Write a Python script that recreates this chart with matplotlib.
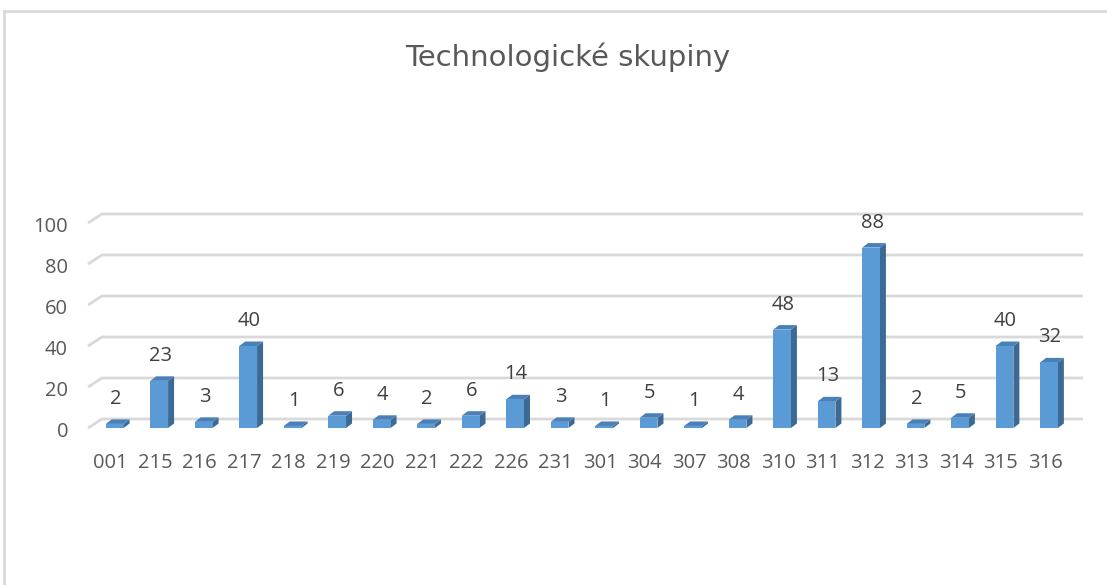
import matplotlib
matplotlib.use("Agg")
import matplotlib.pyplot as plt
from matplotlib.transforms import ScaledTranslation
from matplotlib.patches import Polygon

# ---- data ----
categories = ["001", "215", "216", "217", "218", "219", "220", "221", "222", "226", "231",
              "301", "304", "307", "308", "310", "311", "312", "313", "314", "315", "316"]
values = [2, 23, 3, 40, 1, 6, 4, 2, 6, 14, 3, 1, 5, 1, 4, 48, 13, 88, 2, 5, 40, 32]
y_ticks = [0, 20, 40, 60, 80, 100]
title = "Technologické skupiny"

# ---- style ----
FRONT = "#5b9bd5"
SIDE = "#3d6a94"
TOP = "#4a80b8"
GRID = "#d9d9d9"
TXT = "#595959"
LBL = "#404040"
FONT = "Open Sans"
plt.rcParams["font.family"] = [FONT, "DejaVu Sans"]

W, H, DPI = 1107, 585, 100
fig = plt.figure(figsize=(W / DPI, H / DPI), dpi=DPI)
ax = fig.add_axes([88 / W, (H - 428) / H, (1069 - 88) / W, 205 / H])
xmin, xmax = -0.6, 21.45
ax.set_xlim(xmin, xmax)
ax.set_ylim(0, 100)
ax.axis("off")


def off(dx_px, dy_px):
    return ax.transData + ScaledTranslation(dx_px / DPI, dy_px / DPI, fig.dpi_scale_trans)


# back-wall gridlines with slanted left ends
WALL_DX, WALL_DY = 14, 9
inv = fig.transFigure.inverted()
for v in y_ticks:
    p0 = ax.transData.transform((xmin, v))
    p1 = p0 + (WALL_DX, WALL_DY)
    p2 = ax.transData.transform((xmax, v)) + (WALL_DX, WALL_DY)
    pts = inv.transform([p0, p1, p2])
    ax.plot(pts[:, 0], pts[:, 1], color=GRID, lw=2, zorder=1,
            transform=fig.transFigure, clip_on=False, solid_capstyle="butt")

# 3D-look bars
x = list(range(len(categories)))
bw = 0.4
pxx = ax.transData.transform((1, 0))[0] - ax.transData.transform((0, 0))[0]
pxy = ax.transData.transform((0, 1))[1] - ax.transData.transform((0, 0))[1]
ddx = 6 / pxx
ddy = 4.5 / pxy
for xi, v in zip(x, values):
    l, r = xi - bw / 2, xi + bw / 2
    ax.add_patch(Polygon([(r, 0), (r, v), (r + ddx, v + ddy), (r + ddx, ddy)],
                         closed=True, facecolor=SIDE, edgecolor="none", zorder=3, clip_on=False))
    ax.add_patch(Polygon([(l, v), (r, v), (r + ddx, v + ddy), (l + ddx, v + ddy)],
                         closed=True, facecolor=TOP, edgecolor="none", zorder=3, clip_on=False))
ax.bar(x, values, width=bw, color=FRONT, zorder=4, clip_on=False)

# data labels
for xi, v in zip(x, values):
    ax.text(xi, v, str(v), transform=off(1, 25), ha="center", va="center",
            fontsize=14.5, color=LBL, clip_on=False, zorder=5)

# category labels
for xi, c in zip(x, categories):
    ax.text(xi, 0, c, transform=off(-4, -35), ha="center", va="center",
            fontsize=14.5, color=TXT, clip_on=False)

# value axis labels
for v in y_ticks:
    ax.text(xmin, v, str(v), transform=off(-20, -4), ha="right", va="center",
            fontsize=14.5, color=TXT, clip_on=False)

# title
fig.text(568 / W, 1 - 57 / H, title, ha="center", va="center", fontsize=21,
         color=TXT, family=["DejaVu Sans"])

# chart border (cropped: top and left visible)
fig.add_artist(plt.Line2D([4 / W, 1], [1 - 11 / H, 1 - 11 / H], color=GRID, lw=2,
                          transform=fig.transFigure))
fig.add_artist(plt.Line2D([4 / W, 4 / W], [0, 1 - 11 / H], color=GRID, lw=2,
                          transform=fig.transFigure))

fig.savefig("out.png", dpi=DPI, facecolor="white")
